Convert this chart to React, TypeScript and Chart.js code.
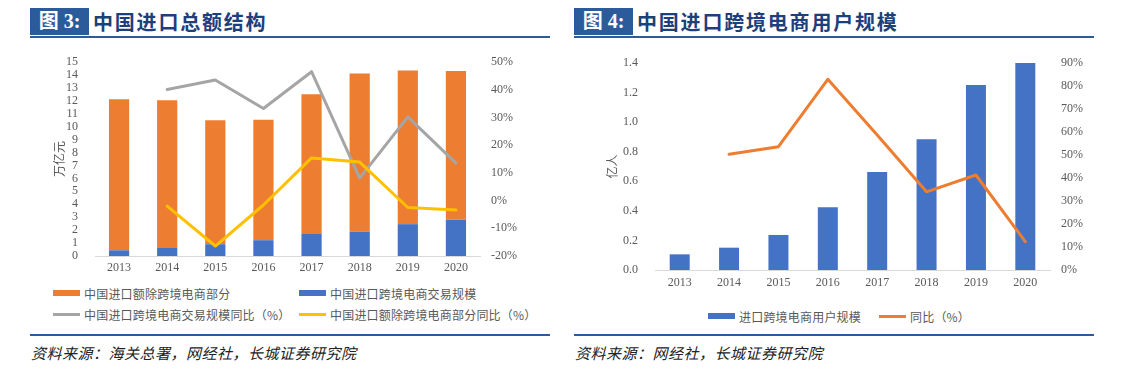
import React, { useEffect, useRef } from 'react';
import { Chart, registerables } from 'chart.js';

Chart.register(...registerables);

// ---------- data ----------
const years = ['2013', '2014', '2015', '2016', '2017', '2018', '2019', '2020'];

// Figure 3 (万亿元 / %)
const importExCrossBorder = [11.68, 11.42, 9.58, 9.32, 10.78, 12.23, 11.89, 11.5];
const crossBorderTrade = [0.44, 0.62, 0.91, 1.22, 1.73, 1.89, 2.46, 2.8];
const crossBorderTradeYoY = [null, 40.1, 43.5, 33.2, 46.5, 8.1, 30.2, 13.5];
const importExCrossBorderYoY = [null, -2.0, -16.4, -1.6, 15.4, 13.9, -2.5, -3.4];

// Figure 4 (亿人 / %)
const crossBorderUsers = [0.106, 0.151, 0.237, 0.424, 0.663, 0.884, 1.251, 1.404];
const crossBorderUsersYoY = [null, 50.3, 53.6, 82.9, 58.7, 34.0, 41.3, 12.3];

// ---------- text ----------
const fig3Label = '图 3:';
const fig3Title = '中国进口总额结构';
const fig4Label = '图 4:';
const fig4Title = '中国进口跨境电商用户规模';
const fig3Legend = [
  '中国进口额除跨境电商部分',
  '中国进口跨境电商交易规模',
  '中国进口跨境电商交易规模同比（%）',
  '中国进口额除跨境电商部分同比（%）',
];
const fig4Legend = ['进口跨境电商用户规模', '同比（%）'];
const fig3Source = '资料来源：海关总署，网经社，长城证券研究院';
const fig4Source = '资料来源：网经社，长城证券研究院';
const fig3YTitle = '万亿元';
const fig4YTitle = '亿人';

// ---------- style ----------
const ORANGE = '#ed7d31';
const BLUE = '#4472c4';
const GRAY = '#a5a5a5';
const YELLOW = '#ffc000';
const NAVY = '#2b5b9b';
const TICK_COLOR = '#595959';
const serif = "'Liberation Serif', 'Times New Roman', serif";
const cjk = "'Noto Sans CJK SC', sans-serif";
const tickFont = { family: serif, size: 12 };

const fitV = (w: number) => (s: any) => {
  s.width = w;
  s.paddingTop = 0;
  s.paddingBottom = 0;
};
const fitH = (h: number) => (s: any) => {
  s.height = h;
  s.paddingLeft = 0;
  s.paddingRight = 0;
};

function ImportChart() {
  const ref = useRef<HTMLCanvasElement>(null);
  useEffect(() => {
    const chart = new Chart(ref.current as HTMLCanvasElement, {
      type: 'bar',
      data: {
        labels: years,
        datasets: [
          {
            type: 'bar',
            label: fig3Legend[1],
            data: crossBorderTrade,
            backgroundColor: BLUE,
            yAxisID: 'y',
            stack: 's',
            order: 2,
            barPercentage: 0.42,
            categoryPercentage: 1,
          },
          {
            type: 'bar',
            label: fig3Legend[0],
            data: importExCrossBorder,
            backgroundColor: ORANGE,
            yAxisID: 'y',
            stack: 's',
            order: 2,
            barPercentage: 0.42,
            categoryPercentage: 1,
          },
          {
            type: 'line',
            label: fig3Legend[2],
            data: crossBorderTradeYoY,
            borderColor: GRAY,
            borderWidth: 3,
            pointRadius: 0,
            yAxisID: 'y1',
            order: 1,
            borderJoinStyle: 'round',
            borderCapStyle: 'round',
          },
          {
            type: 'line',
            label: fig3Legend[3],
            data: importExCrossBorderYoY,
            borderColor: YELLOW,
            borderWidth: 3,
            pointRadius: 0,
            yAxisID: 'y1',
            order: 0,
            borderJoinStyle: 'round',
            borderCapStyle: 'round',
          },
        ] as any,
      },
      options: {
        responsive: false,
        animation: false,
        layout: { padding: { top: 12, left: 0, right: 0, bottom: 0 } },
        plugins: { legend: { display: false }, tooltip: { enabled: false } },
        scales: {
          x: {
            stacked: true,
            grid: { display: false, drawTicks: false },
            border: { display: true, color: '#d9d9d9', width: 1 },
            ticks: { font: tickFont, color: TICK_COLOR, padding: 5, maxRotation: 0 },
            afterFit: fitH(24),
          },
          y: {
            stacked: true,
            position: 'left',
            min: 0,
            max: 15,
            grid: { display: false, drawTicks: false },
            border: { display: false },
            ticks: { stepSize: 1, autoSkip: false, font: tickFont, color: TICK_COLOR, padding: 17 },
            title: {
              display: true,
              text: fig3YTitle,
              color: TICK_COLOR,
              font: { family: cjk, size: 12 },
              padding: { top: 22, bottom: 0 },
            },
            afterFit: fitV(65),
          },
          y1: {
            position: 'right',
            min: -20,
            max: 50,
            grid: { display: false, drawTicks: false },
            border: { display: false },
            ticks: {
              stepSize: 10,
              autoSkip: false,
              font: tickFont,
              color: TICK_COLOR,
              padding: 11,
              callback: (v: any) => `${v}%`,
            },
            afterFit: fitV(70),
          },
        },
      } as any,
    });
    return () => chart.destroy();
  }, []);
  return <canvas ref={ref} width={520} height={230} style={{ width: 520, height: 230, display: 'block' }} />;
}

function UsersChart() {
  const ref = useRef<HTMLCanvasElement>(null);
  useEffect(() => {
    const chart = new Chart(ref.current as HTMLCanvasElement, {
      type: 'bar',
      data: {
        labels: years,
        datasets: [
          {
            type: 'bar',
            label: fig4Legend[0],
            data: crossBorderUsers,
            backgroundColor: BLUE,
            yAxisID: 'y',
            order: 2,
            barPercentage: 0.405,
            categoryPercentage: 1,
          },
          {
            type: 'line',
            label: fig4Legend[1],
            data: crossBorderUsersYoY,
            borderColor: ORANGE,
            borderWidth: 3,
            pointRadius: 0,
            yAxisID: 'y1',
            order: 1,
            borderJoinStyle: 'round',
            borderCapStyle: 'round',
          },
        ] as any,
      },
      options: {
        responsive: false,
        animation: false,
        layout: { padding: { top: 13, left: 0, right: 0, bottom: 0 } },
        plugins: { legend: { display: false }, tooltip: { enabled: false } },
        scales: {
          x: {
            grid: { display: false, drawTicks: false },
            border: { display: true, color: '#d9d9d9', width: 1 },
            ticks: { font: tickFont, color: TICK_COLOR, padding: 6, maxRotation: 0 },
            afterFit: fitH(25),
          },
          y: {
            position: 'left',
            min: 0,
            max: 1.4,
            grid: { display: false, drawTicks: false },
            border: { display: false },
            ticks: {
              stepSize: 0.2,
              autoSkip: false,
              font: tickFont,
              color: TICK_COLOR,
              padding: 17,
              callback: (v: any) => Number(v).toFixed(1),
            },
            title: {
              display: true,
              text: fig4YTitle,
              color: TICK_COLOR,
              font: { family: cjk, size: 12 },
              padding: { top: 35, bottom: 0 },
            },
            afterFit: fitV(85),
          },
          y1: {
            position: 'right',
            min: 0,
            max: 90,
            grid: { display: false, drawTicks: false },
            border: { display: false },
            ticks: {
              stepSize: 10,
              autoSkip: false,
              font: tickFont,
              color: TICK_COLOR,
              padding: 11,
              callback: (v: any) => `${v}%`,
            },
            afterFit: fitV(50),
          },
        },
      } as any,
    });
    return () => chart.destroy();
  }, []);
  return <canvas ref={ref} width={530} height={245} style={{ width: 530, height: 245, display: 'block' }} />;
}

const abs = (left: number, top: number, extra: React.CSSProperties = {}): React.CSSProperties => ({
  position: 'absolute',
  left,
  top,
  ...extra,
});

function TitleBar({ left, width, label, title }: { left: number; width: number; label: string; title: string }) {
  return (
    <>
      <div
        style={abs(left, 8, {
          width: 59,
          height: 27,
          background: NAVY,
          color: '#fff',
          fontFamily: `${serif}, ${cjk}`,
          fontWeight: 'bold',
          fontSize: 20,
          lineHeight: '27px',
          textAlign: 'center',
          whiteSpace: 'nowrap',
        })}
      >
        {label}
      </div>
      <div
        style={abs(left + 63, 8, {
          height: 27,
          color: '#1d3f7c',
          fontFamily: cjk,
          fontWeight: 'bold',
          fontSize: 20,
          lineHeight: '27px',
          letterSpacing: '1.8px',
          whiteSpace: 'nowrap',
        })}
      >
        {title}
      </div>
      <div style={abs(left, 36, { width, height: 2, background: NAVY })} />
    </>
  );
}

function LegendItem({ left, top, kind, color, text }: { left: number; top: number; kind: 'bar' | 'line'; color: string; text: string }) {
  return (
    <div style={abs(left, top - 8, { height: 16, display: 'flex', alignItems: 'center', whiteSpace: 'nowrap' })}>
      <span
        style={{
          display: 'inline-block',
          width: 27,
          height: kind === 'bar' ? 6 : 3,
          background: color,
          marginRight: 4,
        }}
      />
      <span style={{ fontFamily: cjk, fontSize: 12, color: TICK_COLOR, letterSpacing: '0.2px' }}>{text}</span>
    </div>
  );
}

const sourceStyle: React.CSSProperties = {
  fontFamily: cjk,
  fontStyle: 'italic',
  fontSize: 15,
  color: '#222',
  letterSpacing: '0.5px',
  whiteSpace: 'nowrap',
  lineHeight: '20px',
};

export default function App() {
  return (
    <div style={{ position: 'absolute', left: 0, top: 0, width: 1132, height: 388, background: '#fff', overflow: 'hidden' }}>
      {/* Figure 3 */}
      <TitleBar left={30} width={520} label={fig3Label} title={fig3Title} />
      <div style={abs(30, 50)}>
        <ImportChart />
      </div>
      <LegendItem left={53} top={293} kind="bar" color={ORANGE} text={fig3Legend[0]} />
      <LegendItem left={299} top={293} kind="bar" color={BLUE} text={fig3Legend[1]} />
      <LegendItem left={53} top={314} kind="line" color={GRAY} text={fig3Legend[2]} />
      <LegendItem left={299} top={314} kind="line" color={YELLOW} text={fig3Legend[3]} />
      <div style={abs(30, 334, { width: 520, height: 2, background: NAVY })} />
      <div style={abs(31, 343, sourceStyle)}>{fig3Source}</div>

      {/* Figure 4 */}
      <TitleBar left={574} width={520} label={fig4Label} title={fig4Title} />
      <div style={abs(570, 50)}>
        <UsersChart />
      </div>
      <LegendItem left={708} top={316} kind="bar" color={BLUE} text={fig4Legend[0]} />
      <LegendItem left={879} top={316} kind="line" color={ORANGE} text={fig4Legend[1]} />
      <div style={abs(574, 334, { width: 520, height: 2, background: NAVY })} />
      <div style={abs(575, 343, sourceStyle)}>{fig4Source}</div>
    </div>
  );
}
